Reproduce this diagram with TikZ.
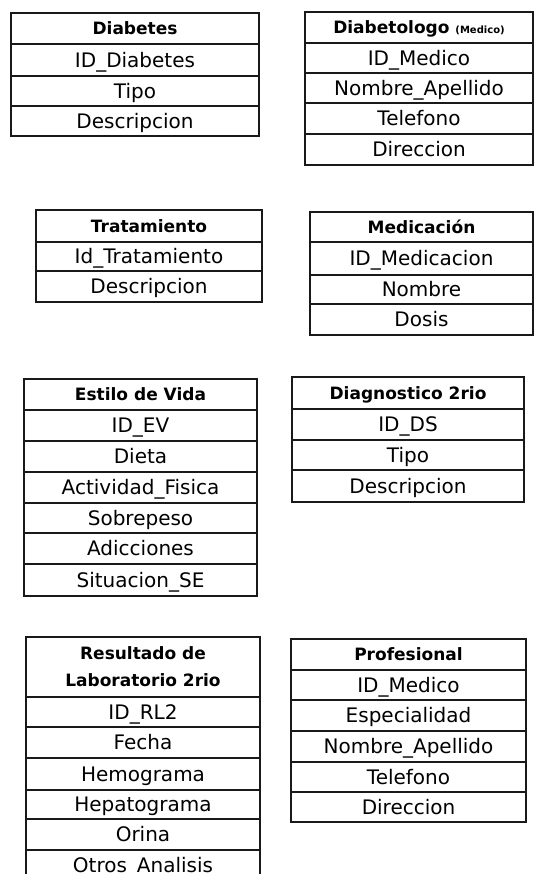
\documentclass[tikz,border=0pt]{standalone}
\usepackage{fontspec}
\setmainfont{DejaVu Sans}
\tikzset{
  box/.style={draw=black!90, line width=1.5pt, inner sep=0pt, text=black},
  cell/.style={box, font=\fontsize{20}{22}\selectfont, text height=14.6pt, text depth=0pt},
  head/.style={box, font=\bfseries\fontsize{17}{22}\selectfont, text height=12.4pt, text depth=0pt},
  headtwo/.style={box, font=\bfseries\fontsize{17}{27}\selectfont, align=center},
}
\newcommand{\ecell}[7]{\node[#1, minimum width={(#4)-(#3)}, minimum height={(#6)-(#5)}] (#2) at ({((#3)+(#4))/2},{((#5)+(#6))/2}) {#7};}
\begin{document}
\begin{tikzpicture}[x=1pt,y=-1pt]
\useasboundingbox (0,0) rectangle (536,874);
\clip (0,0) rectangle (536,874);
% Diabetes
\ecell{head}{d0}{11}{259}{13}{44}{Diabetes}
\ecell{cell}{d1}{11}{259}{44}{76}{ID\_Diabetes}
\ecell{cell}{d2}{11}{259}{76}{106}{Tipo}
\ecell{cell}{d3}{11}{259}{106}{136}{Descripcion}
% Diabetologo
\ecell{head}{m0}{305}{533}{12}{43}{Diabetologo {\fontsize{10}{11}\selectfont (Medico)}}
\ecell{cell}{m1}{305}{533}{43}{73}{ID\_Medico}
\ecell{cell}{m2}{305}{533}{73}{103}{Nombre\_Apellido}
\ecell{cell}{m3}{305}{533}{103}{134}{Telefono}
\ecell{cell}{m4}{305}{533}{134}{165}{Direccion}
% Tratamiento
\ecell{head}{t0}{36}{262}{210}{242}{Tratamiento}
\ecell{cell}{t1}{36}{262}{242}{271}{Id\_Tratamiento}
\ecell{cell}{t2}{36}{262}{271}{302}{Descripcion}
% Medicacion
\ecell{head}{c0}{310}{533}{212}{242}{Medicación}
\ecell{cell}{c1}{310}{533}{242}{275}{ID\_Medicacion}
\ecell{cell}{c2}{310}{533}{275}{304}{Nombre}
\ecell{cell}{c3}{310}{533}{304}{335}{Dosis}
% Estilo de Vida
\ecell{head}{e0}{24}{257}{379}{410}{Estilo de Vida}
\ecell{cell}{e1}{24}{257}{410}{441}{ID\_EV}
\ecell{cell}{e2}{24}{257}{441}{472}{Dieta}
\ecell{cell}{e3}{24}{257}{472}{503}{Actividad\_Fisica}
\ecell{cell}{e4}{24}{257}{503}{533}{Sobrepeso}
\ecell{cell}{e5}{24}{257}{533}{564}{Adicciones}
\ecell{cell}{e6}{24}{257}{564}{596}{Situacion\_SE}
% Diagnostico
\ecell{head}{g0}{292}{524}{377}{409}{Diagnostico 2rio}
\ecell{cell}{g1}{292}{524}{409}{440}{ID\_DS}
\ecell{cell}{g2}{292}{524}{440}{470}{Tipo}
\ecell{cell}{g3}{292}{524}{470}{502}{Descripcion}
% Resultado
\ecell{headtwo}{r0}{26}{260}{637}{697}{Resultado de\\Laboratorio 2rio}
\ecell{cell}{r1}{26}{260}{697}{727}{ID\_RL2}
\ecell{cell}{r2}{26}{260}{727}{758}{Fecha}
\ecell{cell}{r3}{26}{260}{758}{790}{Hemograma}
\ecell{cell}{r4}{26}{260}{790}{819}{Hepatograma}
\ecell{cell}{r5}{26}{260}{819}{850}{Orina}
\ecell{cell}{r6}{26}{260}{850}{881}{Otros\_Analisis}
% Profesional
\ecell{head}{p0}{291}{526}{639}{670}{Profesional}
\ecell{cell}{p1}{291}{526}{670}{700}{ID\_Medico}
\ecell{cell}{p2}{291}{526}{700}{731}{Especialidad}
\ecell{cell}{p3}{291}{526}{731}{762}{Nombre\_Apellido}
\ecell{cell}{p4}{291}{526}{762}{792}{Telefono}
\ecell{cell}{p5}{291}{526}{792}{822}{Direccion}
\end{tikzpicture}
\end{document}
